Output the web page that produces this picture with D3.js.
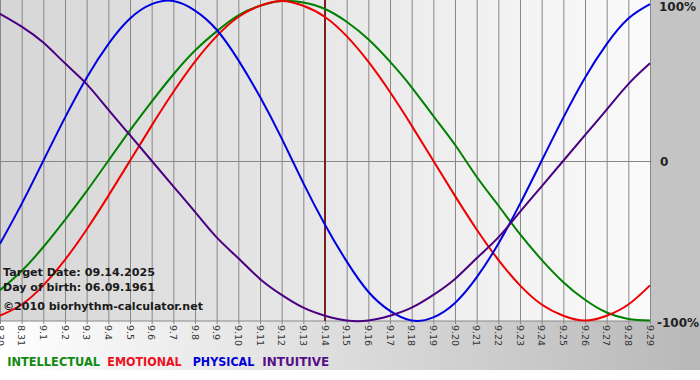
<!DOCTYPE html>
<html><head><meta charset="utf-8">
<script src="https://cdn.jsdelivr.net/npm/d3@7/dist/d3.min.js"></script>
<style>html,body{margin:0;padding:0;background:#fff;}svg{display:block;}</style>
</head><body>
<svg id="c" width="700" height="380"></svg>
<script>
const days = ["8.30","8.31","9.1","9.2","9.3","9.4","9.5","9.6","9.7","9.8","9.9","9.10","9.11","9.12","9.13","9.14","9.15","9.16","9.17","9.18","9.19","9.20","9.21","9.22","9.23","9.24","9.25","9.26","9.27","9.28","9.29"];
const physical = [-0.52,-0.27,0,0.27,0.52,0.73,0.89,0.98,1.00,0.94,0.82,0.63,0.40,0.14,-0.14,-0.40,-0.63,-0.82,-0.94,-1.00,-0.98,-0.89,-0.73,-0.52,-0.27,0,0.27,0.52,0.73,0.89,0.98];
const emotional = [-0.97,-0.90,-0.78,-0.62,-0.43,-0.22,0,0.22,0.43,0.62,0.78,0.90,0.97,1.00,0.97,0.90,0.78,0.62,0.43,0.22,0,-0.22,-0.43,-0.62,-0.78,-0.90,-0.97,-1.00,-0.97,-0.90,-0.78];
const intellectual = [-0.81,-0.69,-0.54,-0.37,-0.19,0,0.19,0.37,0.54,0.69,0.81,0.91,0.97,1.00,0.99,0.95,0.87,0.76,0.62,0.46,0.28,0.10,-0.10,-0.28,-0.46,-0.62,-0.76,-0.87,-0.95,-0.99,-1.00];
const intuitive = [0.92,0.84,0.74,0.61,0.48,0.32,0.16,0,-0.16,-0.32,-0.48,-0.61,-0.74,-0.84,-0.92,-0.97,-1.00,-1.00,-0.97,-0.92,-0.84,-0.74,-0.61,-0.48,-0.32,-0.16,0,0.16,0.32,0.48,0.61];
const yTicks = [1, 0, -1];
const yTickLabels = ["100%", "0", "-100%"];
const targetDay = "9.14";
const infoLines = ["Target Date: 09.14.2025", "Day of birth: 06.09.1961", "\u00a92010 biorhythm-calculator.net"];
const legendNames = ["INTELLECTUAL", "EMOTIONAL", "PHYSICAL", "INTUITIVE"];

const svg = d3.select("#c");
const W = 700, H = 380;
const plot = {l: 0, r: 650, t: 1, b: 320.5};

const defs = svg.append("defs");
const g1 = defs.append("linearGradient").attr("id","bgGrad").attr("x1","0").attr("x2","1").attr("y1","0").attr("y2","0");
g1.append("stop").attr("offset","0").attr("stop-color","#ffffff");
g1.append("stop").attr("offset","1").attr("stop-color","#b8b8b8");
const g2 = defs.append("linearGradient").attr("id","plotGrad").attr("x1","0").attr("x2","1").attr("y1","0").attr("y2","0");
g2.append("stop").attr("offset","0").attr("stop-color","#d6d6d6");
g2.append("stop").attr("offset","1").attr("stop-color","#fafafa");

svg.append("rect").attr("x",0).attr("y",0).attr("width",W).attr("height",370).attr("fill","url(#bgGrad)");
svg.append("rect").attr("x",650).attr("y",0).attr("width",50).attr("height",321).attr("fill","#c4c4c4");
svg.append("rect").attr("x",plot.l).attr("y",0).attr("width",plot.r-plot.l).attr("height",321).attr("fill","url(#plotGrad)");

const x = d3.scalePoint().domain(days).range([plot.l, plot.r]);
const y = d3.scaleLinear().domain([-1, 1]).range([plot.b, plot.t]);

// vertical grid + ticks
const xAxis = d3.axisBottom(x).tickSize(324).tickPadding(0).tickFormat("");
const gx = svg.append("g").call(xAxis);
gx.select(".domain").remove();
gx.selectAll(".tick line").attr("stroke","#888").attr("stroke-width",1);

// tick labels (rotated)
svg.append("g").selectAll("text").data(days).join("text")
  .attr("transform", d => `translate(${x(d)},325) rotate(90)`)
  .attr("dy","0.35em")
  .attr("font-family","DejaVu Sans, Verdana, sans-serif")
  .attr("font-size","9.5px")
  .attr("fill","#333")
  .text(d => d);

// horizontal lines (zero and bottom)
svg.append("line").attr("x1",plot.l).attr("x2",652).attr("y1",Math.round(y(0))+0.5).attr("y2",Math.round(y(0))+0.5).attr("stroke","#888");
svg.append("line").attr("x1",plot.l).attr("x2",650).attr("y1",321).attr("y2",321).attr("stroke","#888");

// right axis labels
const yLabelBase = [10.5, 166, 326.5];
svg.append("g").selectAll("text").data(yTicks).join("text")
  .attr("x", (d,i) => i===2 ? 657 : (i===1 ? 660 : 659))
  .attr("y", (d,i) => y(d) - y(d) + yLabelBase[i])
  .attr("font-family","DejaVu Sans, Verdana, sans-serif")
  .attr("font-weight","bold")
  .attr("font-size","12px")
  .attr("fill","#222")
  .text((d,i) => yTickLabels[i]);

// target line
svg.append("line").attr("x1",x(targetDay)).attr("x2",x(targetDay)).attr("y1",0).attr("y2",321)
  .attr("stroke","#7a1f1f").attr("stroke-width",2);

const line = d3.line().x((d,i) => x(days[i])).y(d => y(d)).curve(d3.curveNatural);
const series = [
  {v: intellectual, c: "#008000"},
  {v: emotional, c: "#ee0000"},
  {v: physical, c: "#0000e0"},
  {v: intuitive, c: "#4b0082"}
];
const plotG = svg.append("g");
plotG.append("clipPath").attr("id","clp").append("rect").attr("x",0).attr("y",-2).attr("width",651).attr("height",325);
series.forEach(s => {
  plotG.append("path").attr("d", line(s.v)).attr("fill","none").attr("stroke", s.c).attr("stroke-width",2).attr("clip-path","url(#clp)");
});

// info text
const infoY = [275.5, 290.5, 310];
const infoW = [152, 152, 200];
svg.append("g").selectAll("text").data(infoLines).join("text")
  .attr("x", 3).attr("y", (d,i) => infoY[i])
  .attr("font-family","DejaVu Sans, Verdana, sans-serif")
  .attr("font-weight","bold").attr("font-size","11px")
  .attr("fill","#1a1a1a")
  .attr("textLength",(d,i)=>infoW[i]).attr("lengthAdjust","spacingAndGlyphs")
  .text(d => d);

// legend
const legendX = [7.3, 107.3, 192.7, 262.3];
const legendW = [92.7, 74.4, 61.6, 67];
const legendC = ["#108a10", "#ee1020", "#0000d8", "#551088"];
svg.append("g").selectAll("text").data(legendNames).join("text")
  .attr("x",(d,i)=>legendX[i]).attr("y",366)
  .attr("font-family","DejaVu Sans, Verdana, sans-serif")
  .attr("font-weight","bold").attr("font-size","12px")
  .attr("fill",(d,i)=>legendC[i])
  .attr("textLength",(d,i)=>legendW[i]).attr("lengthAdjust","spacingAndGlyphs")
  .text(d => d);
</script>
</body></html>
